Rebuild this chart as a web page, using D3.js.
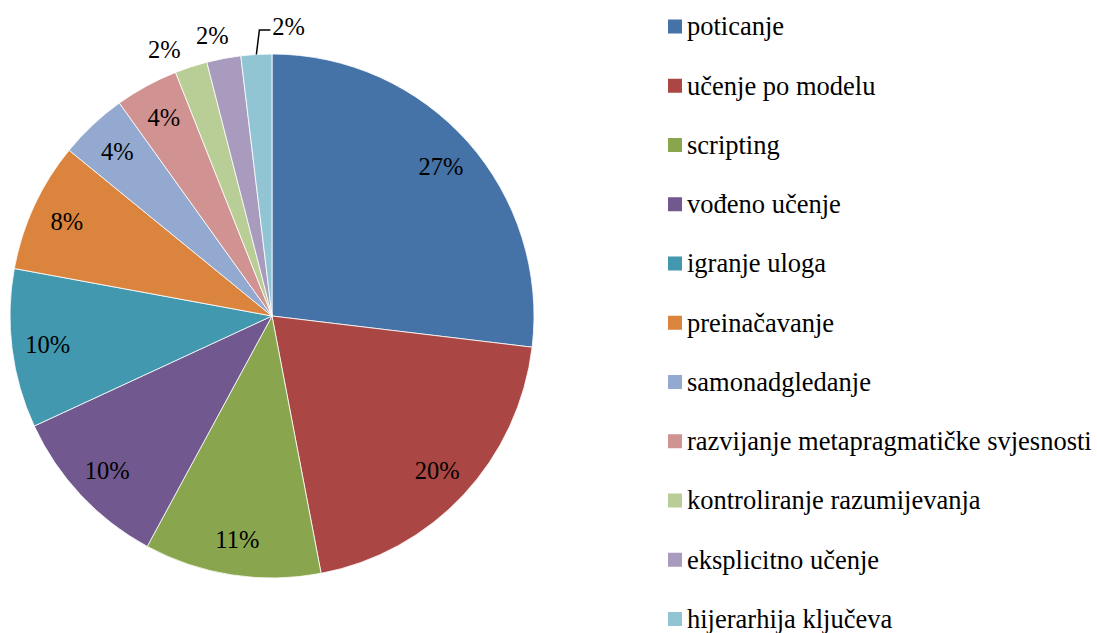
<!DOCTYPE html>
<html>
<head>
<meta charset="utf-8">
<script src="https://cdn.jsdelivr.net/npm/d3@7"></script>
<style>
  html, body { margin: 0; padding: 0; background: #fff; }
  svg { display: block; }
</style>
</head>
<body>
<svg id="chart"></svg>
<script>
const WIDTH = 1097;
const HEIGHT = 633;
const FONT = '"Liberation Serif"';

// data (share of total, in %)
const categories = [
	'poticanje',
	'učenje po modelu',
	'scripting',
	'vođeno učenje',
	'igranje uloga',
	'preinačavanje',
	'samonadgledanje',
	'razvijanje metapragmatičke svjesnosti',
	'kontroliranje razumijevanja',
	'eksplicitno učenje',
	'hijerarhija ključeva'
];
const values = [26.9, 20.1, 10.9, 10.2, 9.8, 8.0, 4.2, 3.9, 2.0, 2.1, 1.9];
const colors = [
	'#4572A7', '#AA4643', '#89A54E', '#71588F', '#4198AF', '#DB843D',
	'#93A9CF', '#D19392', '#B9CD96', '#A99BBD', '#92C5D4'
];

const CX = 272;
const CY = 316;
const RADIUS = 262;
const LABEL_R = 226;
const OUTSIDE_R = 287;

const svg = d3.select('#chart').attr('width', WIDTH).attr('height', HEIGHT);

const total = d3.sum(values);
const data = categories.map((name, i) => ({ name, value: values[i], color: colors[i] }));

const pie = d3.pie().value((d) => d.value).sort(null);
const arcs = pie(data);

const arc = d3.arc().innerRadius(0).outerRadius(RADIUS);
const labelArc = d3.arc().innerRadius(LABEL_R).outerRadius(LABEL_R);
const edgeArc = d3.arc().innerRadius(RADIUS).outerRadius(RADIUS);

const pieGroup = svg.append('g').attr('transform', `translate(${CX},${CY})`);

pieGroup
	.selectAll('path.slice')
	.data(arcs)
	.enter()
	.append('path')
	.attr('class', 'slice')
	.attr('d', arc)
	.attr('fill', (d) => d.data.color)
	.attr('stroke', '#fff')
	.attr('stroke-width', 0.8);

const pct = (d) => `${Math.round((d.data.value / total) * 100)}%`;

// small slices get their labels outside the pie
const isSmall = (d) => d.data.value / total < 0.03;

pieGroup
	.selectAll('text.inner')
	.data(arcs.filter((d) => !isSmall(d)))
	.enter()
	.append('text')
	.attr('class', 'inner')
	.attr('transform', (d) => `translate(${labelArc.centroid(d)})`)
	.attr('text-anchor', 'middle')
	.attr('dy', '0.35em')
	.style('font-family', FONT)
	.style('font-size', '24.5px')
	.attr('fill', '#000')
	.text(pct);

const small = arcs.filter(isSmall);
const last = small[small.length - 1];

// spread the crowded outside labels a bit (radians, counter-clockwise)
const spread = [0.07, 0.024];
const outsidePos = (d, i) => {
	const a = (d.startAngle + d.endAngle) / 2 - spread[i];
	return [OUTSIDE_R * Math.sin(a), -OUTSIDE_R * Math.cos(a)];
};

pieGroup
	.selectAll('text.outer')
	.data(small.filter((d) => d !== last))
	.enter()
	.append('text')
	.attr('class', 'outer')
	.attr('transform', (d, i) => `translate(${outsidePos(d, i)})`)
	.attr('text-anchor', 'middle')
	.attr('dy', '0.35em')
	.style('font-family', FONT)
	.style('font-size', '24.5px')
	.attr('fill', '#000')
	.text(pct);

// last slice: label pushed right with an elbow leader
const edge = edgeArc.centroid(last);
const elbow = [edge[0] + 3, -RADIUS - 24];
const tail = [elbow[0] + 11, elbow[1]];
pieGroup
	.append('path')
	.attr('d', d3.line()([edge, elbow, tail]))
	.attr('fill', 'none')
	.attr('stroke', '#000')
	.attr('stroke-width', 1.5);
pieGroup
	.append('text')
	.attr('x', tail[0] + 2)
	.attr('y', tail[1])
	.attr('dy', '0.2em')
	.style('font-family', FONT)
	.style('font-size', '24.5px')
	.attr('fill', '#000')
	.text(pct(last));

// LEGEND
const legendY = d3
	.scalePoint()
	.domain(categories)
	.range([26.5, 619]);

const legend = svg
	.append('g')
	.selectAll('g')
	.data(data)
	.enter()
	.append('g')
	.attr('transform', (d) => `translate(668,${legendY(d.name)})`);

legend
	.append('rect')
	.attr('x', 0)
	.attr('y', -7)
	.attr('width', 14)
	.attr('height', 14)
	.attr('fill', (d) => d.color);

legend
	.append('text')
	.attr('x', 19)
	.attr('y', 0)
	.attr('dy', '0.33em')
	.style('font-family', FONT)
	.style('font-size', '26.5px')
	.attr('fill', '#000')
	.text((d) => d.name);
</script>
</body>
</html>
